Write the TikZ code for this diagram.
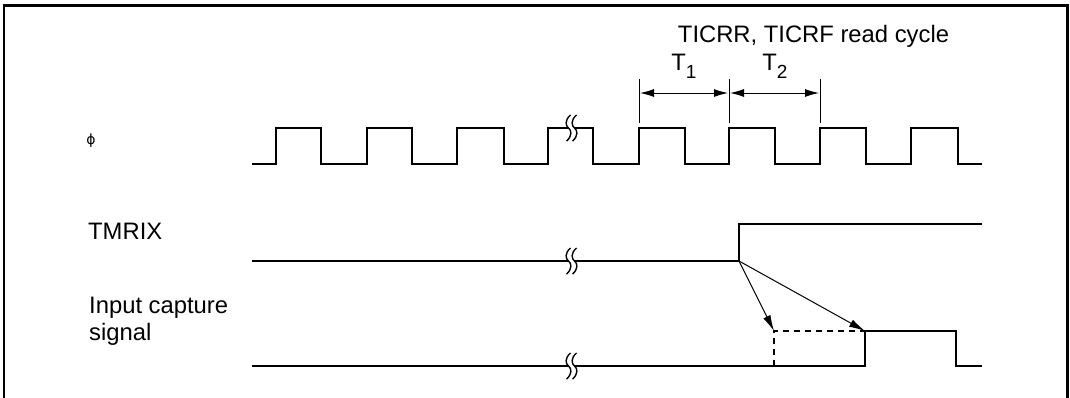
\documentclass[tikz,border=0pt]{standalone}
\usepackage{fontspec}
\setmainfont{Liberation Sans}
\newfontfamily\symfont{DejaVu Sans}
\usetikzlibrary{arrows.meta}
\begin{document}
\begin{tikzpicture}[x=1pt,y=-1pt,
  sig/.style={line width=2.7pt,line join=miter},
  thin/.style={line width=1pt},
  dimarrow/.style={thin,{Latex[length=14pt,width=8pt]}-{Latex[length=14pt,width=8pt]}},
  cause/.style={thin,-{Latex[length=16pt,width=8pt]}},
  lbl/.style={font=\fontsize{23.8}{27}\selectfont,inner sep=0pt},
  brk/.style={line width=1.4pt}]
\useasboundingbox (0,0) rectangle (1070,397);
% frame
\draw[line width=2.2pt] (4,400) -- (4,5.5) -- (1067.5,5.5) -- (1067.5,400);
% labels
\node[inner sep=0pt,font=\symfont\fontsize{14}{14}\selectfont] (phi) at (91,141) {ϕ};
\node[lbl,anchor=base west] (tmrix) at (88,239) {TMRIX};
\node[lbl,anchor=base west,align=left] (ics) at (89,340) {Input capture\\signal};
\node[lbl,anchor=base] (title) at (813.5,42) {TICRR, TICRF read cycle};
\node[lbl,anchor=base] (t1) at (684,70) {T\raisebox{-8pt}{\fontsize{19}{19}\selectfont 1}};
\node[lbl,anchor=base] (t2) at (775,70) {T\raisebox{-8pt}{\fontsize{19}{19}\selectfont 2}};
% clock
\draw[sig] (252,164) -- (276,164) -- (276,128) -- (321,128) -- (321,164)
  -- (367,164) -- (367,128) -- (412,128) -- (412,164)
  -- (457,164) -- (457,128) -- (504,128) -- (504,164)
  -- (548,164) -- (548,128) -- (593,128) -- (593,164)
  -- (639,164) -- (639,128) -- (685,128) -- (685,164)
  -- (729,164) -- (729,128) -- (775,128) -- (775,164)
  -- (820,164) -- (820,128) -- (866,128) -- (866,164)
  -- (911,164) -- (911,128) -- (958,128) -- (958,164) -- (982,164);
% TMRIX
\coordinate (tedge) at (739,261);
\draw[sig] (252,261) -- (tedge) -- (739,224) -- (982,224);
% input capture
\coordinate (early) at (774,331);
\coordinate (late) at (865,331);
\draw[sig] (252,366) -- (865,366) -- (late) -- (956,331) -- (956,366) -- (982,366);
\draw[line width=2.7pt,dash pattern=on 6pt off 5pt] (774,366) -- (early) -- (late);
% break marks
\foreach \y in {128,261,366}{
  \fill[white] (568,\y-4) rectangle (575,\y+4);
  \foreach \x in {568.5,574.5}{
    \draw[brk] (\x+2,\y-13) .. controls (\x-4,\y-8) and (\x-3,\y-2) .. (\x,\y)
      .. controls (\x+3,\y+2) and (\x+4,\y+8) .. (\x-2,\y+13);
  }
}
% dimension lines
\coordinate (d1top) at (639,79);
\coordinate (d1bot) at (639,123);
\coordinate (d2top) at (729,79);
\coordinate (d2bot) at (729,123);
\coordinate (d3top) at (820,79);
\coordinate (d3bot) at (820,123);
\draw[thin] (d1top) -- (d1bot);
\draw[thin] (d2top) -- (d2bot);
\draw[thin] (d3top) -- (d3bot);
\draw[dimarrow] (640,93) -- (728,93);
\draw[dimarrow] (730,93) -- (819,93);
% causal arrows
\draw[cause] (tedge) -- (early);
\draw[cause] (tedge) -- (late);
\end{tikzpicture}
\end{document}
